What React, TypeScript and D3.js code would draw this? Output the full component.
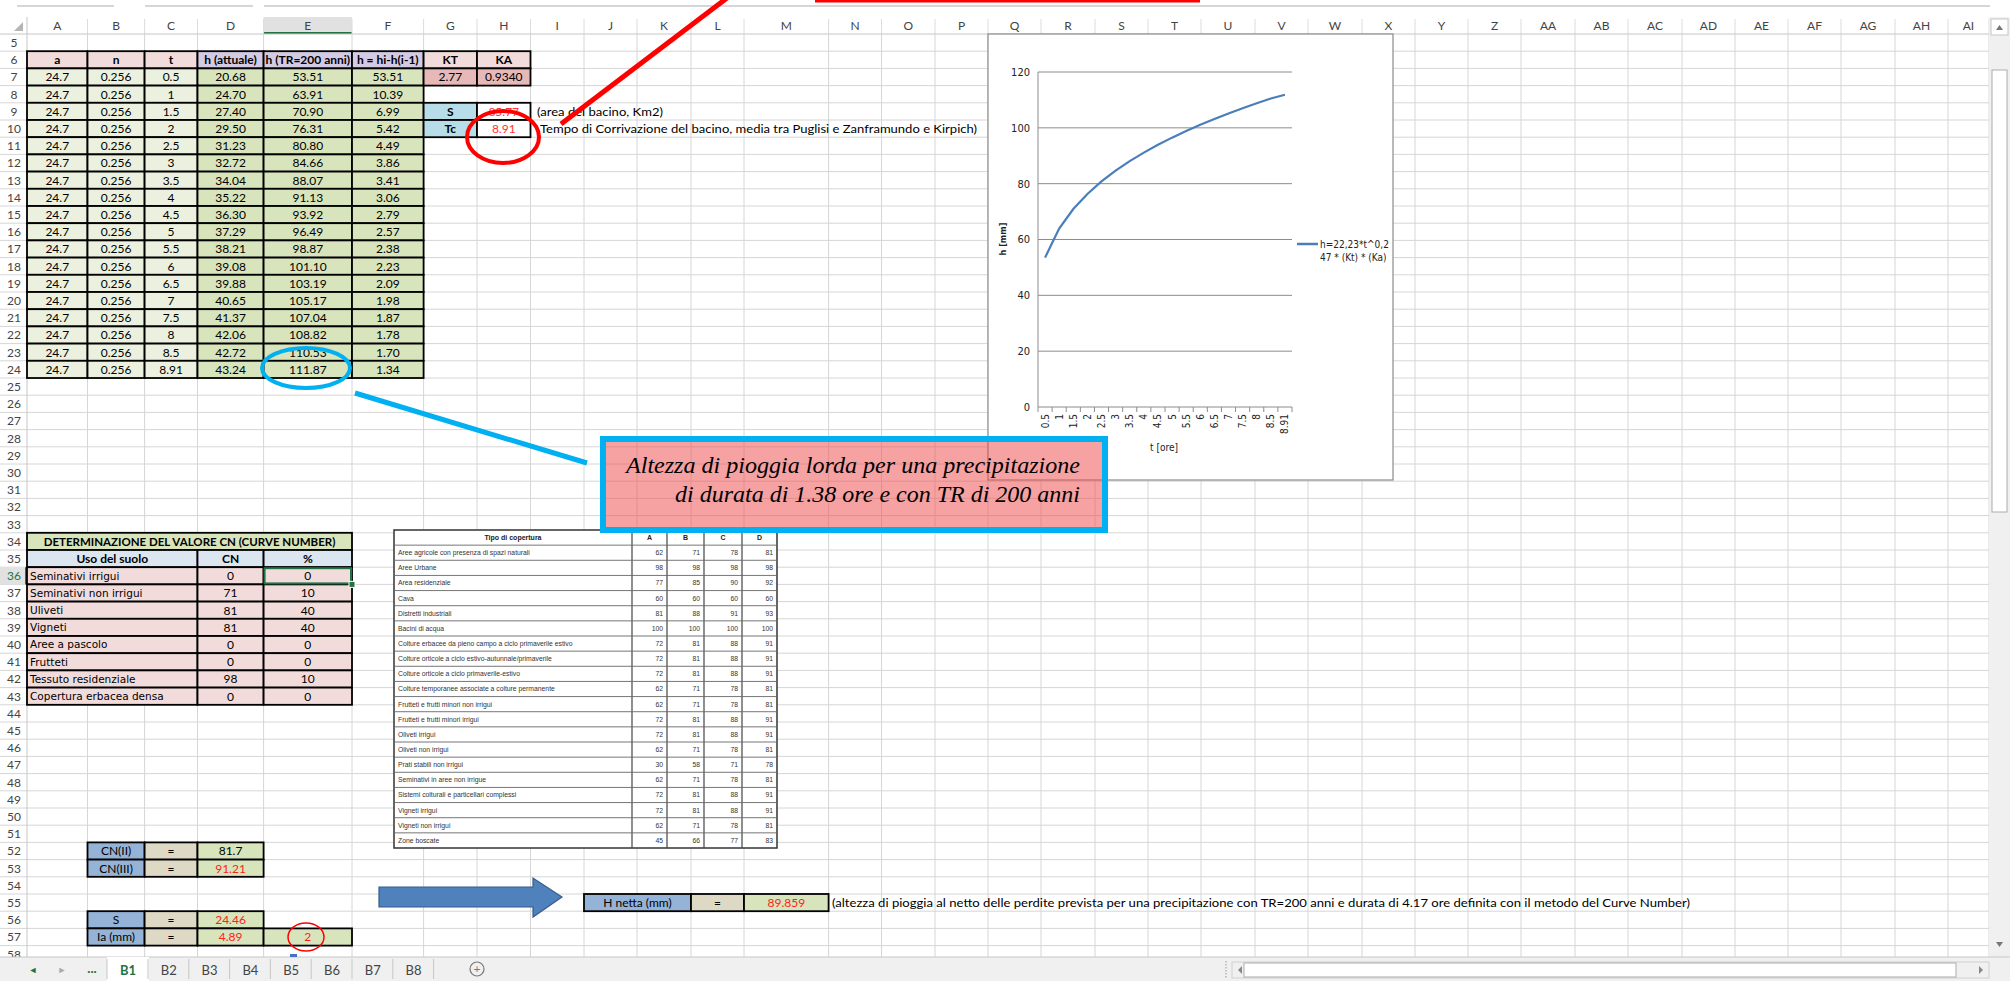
import React from "react";
import * as d3 from "d3";

// ---- sheet data ----
const tLabels = ["0.5", "1", "1.5", "2", "2.5", "3", "3.5", "4", "4.5", "5", "5.5", "6", "6.5", "7", "7.5", "8", "8.5", "8.91"];
const aValue = "24.7";
const nValue = "0.256";
const hAttuale = ["20.68", "24.70", "27.40", "29.50", "31.23", "32.72", "34.04", "35.22", "36.30", "37.29", "38.21", "39.08", "39.88", "40.65", "41.37", "42.06", "42.72", "43.24"];
const hTR200 = [53.51, 63.91, 70.9, 76.31, 80.8, 84.66, 88.07, 91.13, 93.92, 96.49, 98.87, 101.1, 103.19, 105.17, 107.04, 108.82, 110.53, 111.87];
const hDiff = ["53.51", "10.39", "6.99", "5.42", "4.49", "3.86", "3.41", "3.06", "2.79", "2.57", "2.38", "2.23", "2.09", "1.98", "1.87", "1.78", "1.70", "1.34"];
const topHeaders = ["a", "n", "t", "h (attuale)", "h (TR=200 anni)", "h = hi-h(i-1)"];

const landUse = ["Seminativi irrigui", "Seminativi non irrigui", "Uliveti", "Vigneti", "Aree a pascolo", "Frutteti", "Tessuto residenziale", "Copertura erbacea densa"];
const landCN = [0, 71, 81, 81, 0, 0, 98, 0];
const landPct = [0, 10, 40, 40, 0, 0, 10, 0];

const coverTypes = [
  "Aree agricole con presenza di spazi naturali", "Aree Urbane", "Area residenziale", "Cava", "Distretti industriali",
  "Bacini di acqua", "Colture erbacee da pieno campo a ciclo primaverile estivo", "Colture orticole a ciclo estivo-autunnale/primaverile",
  "Colture orticole a ciclo primaverile-estivo", "Colture temporanee associate a colture permanente", "Frutteti e frutti minori  non irrigui",
  "Frutteti e frutti minori irrigui", "Oliveti irrigui", "Oliveti non irrigui", "Prati stabili non irrigui", "Seminativi in aree non irrigue",
  "Sistemi colturali e particellari complessi", "Vigneti irrigui", "Vigneti non irrigui", "Zone boscate",
];
const coverA = [62, 98, 77, 60, 81, 100, 72, 72, 72, 62, 62, 72, 72, 62, 30, 62, 72, 72, 62, 45];
const coverB = [71, 98, 85, 60, 88, 100, 81, 81, 81, 71, 71, 81, 81, 71, 58, 71, 81, 81, 71, 66];
const coverC = [78, 98, 90, 60, 91, 100, 88, 88, 88, 78, 78, 88, 88, 78, 71, 78, 88, 88, 78, 77];
const coverD = [81, 98, 92, 60, 93, 100, 91, 91, 91, 81, 81, 91, 91, 81, 78, 81, 91, 91, 81, 83];

const tabs = ["B1", "B2", "B3", "B4", "B5", "B6", "B7", "B8"];
const yTicks = [0, 20, 40, 60, 80, 100, 120];

// ---- sheet geometry ----
const colLetters = ["A", "B", "C", "D", "E", "F", "G", "H", "I", "J", "K", "L", "M", "N", "O", "P",
  "Q", "R", "S", "T", "U", "V", "W", "X", "Y", "Z", "AA", "AB", "AC", "AD", "AE", "AF", "AG", "AH", "AI"];
const colEdges = [27, 87.5, 144.6, 197.5, 263.6, 352, 423.6, 477, 530.5, 584, 637, 691, 744, 828.6, 881.5, 935, 988,
  1041, 1095, 1148, 1201, 1255, 1308, 1362, 1415, 1468, 1521, 1575, 1628, 1682, 1735, 1788, 1841, 1895, 1948, 1989];
const ROW_H = 17.2;
const GRID_BOTTOM = 957;
const rowTop = (r: number) => 34 + (r - 5) * ROW_H;
const cx0 = (c: string) => colEdges[colLetters.indexOf(c)];
const cx1 = (c: string) => colEdges[colLetters.indexOf(c) + 1];
const rows = d3.range(5, 59);

const SHEET_FONT = "Lato, 'Liberation Sans', sans-serif";
const NARROW = "'Liberation Sans Narrow', 'DejaVu Sans Condensed', 'Liberation Sans', sans-serif";
const GRID = "#d6d6d6";

type CellProps = {
  from: string; to?: string; row: number; text?: string | number; fill?: string; color?: string;
  bold?: boolean; align?: "start" | "middle" | "end"; font?: string; size?: number; border?: number;
};

const Cell = ({from, to, row, text, fill = "none", color = "#000", bold = false, align = "middle", font = SHEET_FONT, size = 12, border = 1.8}: CellProps) => {
  const x0 = cx0(from), x1 = cx1(to ?? from), y0 = rowTop(row);
  const tx = align === "start" ? x0 + 3 : align === "end" ? x1 - 3 : (x0 + x1) / 2;
  return (
    <g>
      <rect x={x0} y={y0} width={x1 - x0} height={ROW_H} fill={fill} stroke={border ? "#000" : "none"} strokeWidth={border}/>
      {text !== undefined && (
        <text x={tx} y={y0 + ROW_H / 2} dy="0.36em" textAnchor={align} fill={color}
              fontWeight={bold ? 700 : 400} fontFamily={font} fontSize={size}>{text}</text>
      )}
    </g>
  );
};

const Chart = () => {
  const plot = {left: 1038, right: 1292, top: 72, bottom: 407};
  const x = d3.scaleBand().domain(tLabels).range([plot.left, plot.right]);
  const y = d3.scaleLinear().domain([0, 120]).range([plot.bottom, plot.top]);
  const path = d3.line<number>()
    .x((_, i) => (x(tLabels[i]) ?? 0) + x.bandwidth() / 2)
    .y(d => y(d))(hTR200);
  return (
    <g>
      <rect x={988} y={34} width={405} height={446} fill="#fff" stroke="#8a8a8a" strokeWidth={1.2}/>
      {yTicks.map(v => (
        <g key={v}>
          {v > 0 && <line x1={plot.left} x2={plot.right} y1={y(v)} y2={y(v)} stroke="#8c8c8c" strokeWidth={1}/>}
          <text x={plot.left - 8} y={y(v)} dy="0.35em" textAnchor="end" fontFamily={NARROW} fontSize={11} fill="#222">{v}</text>
        </g>
      ))}
      <line x1={plot.left} x2={plot.left} y1={plot.top} y2={plot.bottom} stroke="#8c8c8c"/>
      <line x1={plot.left} x2={plot.right} y1={plot.bottom} y2={plot.bottom} stroke="#8c8c8c"/>
      {tLabels.map(t => (
        <line key={"tk" + t} x1={x(t)} x2={x(t)} y1={plot.bottom} y2={plot.bottom + 5} stroke="#8c8c8c"/>
      ))}
      <line x1={plot.right} x2={plot.right} y1={plot.bottom} y2={plot.bottom + 5} stroke="#8c8c8c"/>
      {tLabels.map(t => {
        const cx = (x(t) ?? 0) + x.bandwidth() / 2 + 3.5;
        return (
          <text key={"lb" + t} transform={`translate(${cx},${plot.bottom + 7}) rotate(-90)`} textAnchor="end"
                fontFamily={NARROW} fontSize={10} fill="#222">{t}</text>
        );
      })}
      <path d={path ?? ""} fill="none" stroke="#4a7ebb" strokeWidth={2.2}/>
      <text transform="translate(1006,239) rotate(-90)" textAnchor="middle" fontFamily={NARROW} fontSize={9} fontWeight={700} fill="#222">h [mm]</text>
      <text x={1164} y={451} textAnchor="middle" fontFamily={NARROW} fontSize={10} fill="#222">t [ore]</text>
      <line x1={1297} x2={1318} y1={244} y2={244} stroke="#4a7ebb" strokeWidth={2.5}/>
      <text x={1320} y={248} fontFamily={NARROW} fontSize={10} fill="#222">h=22,23*t^0,2</text>
      <text x={1320} y={261} fontFamily={NARROW} fontSize={10} fill="#222">47 * (Kt) * (Ka)</text>
    </g>
  );
};

const CoverTable = () => {
  const x0 = 394, x1 = 777, y0 = 530, y1 = 848;
  const cols = [394, 632, 667, 704, 742, 777];
  const rh = (y1 - y0) / (coverTypes.length + 1);
  const font = "'Liberation Sans', Arial, sans-serif";
  return (
    <g>
      <rect x={x0} y={y0} width={x1 - x0} height={y1 - y0} fill="#fff" stroke="#333" strokeWidth={1.5}/>
      {cols.slice(1, -1).map(cx => <line key={cx} x1={cx} x2={cx} y1={y0} y2={y1} stroke="#444" strokeWidth={1.2}/>)}
      {d3.range(1, coverTypes.length + 1).map(i => (
        <line key={i} x1={x0} x2={x1} y1={y0 + i * rh} y2={y0 + i * rh} stroke="#666" strokeWidth={0.9}/>
      ))}
      <text x={(cols[0] + cols[1]) / 2} y={y0 + rh / 2} dy="0.35em" textAnchor="middle" fontFamily={font} fontSize={7} fontWeight={700} fill="#222">Tipo di copertura</text>
      {["A", "B", "C", "D"].map((h, j) => (
        <text key={h} x={(cols[j + 1] + cols[j + 2]) / 2} y={y0 + rh / 2} dy="0.35em" textAnchor="middle" fontFamily={font} fontSize={7} fontWeight={700} fill="#222">{h}</text>
      ))}
      {coverTypes.map((name, i) => {
        const yy = y0 + (i + 1.5) * rh;
        const vals = [coverA[i], coverB[i], coverC[i], coverD[i]];
        return (
          <g key={name}>
            <text x={x0 + 4} y={yy} dy="0.35em" fontFamily={font} fontSize={6.8} fill="#333">{name}</text>
            {vals.map((v, j) => (
              <text key={j} x={cols[j + 2] - 4} y={yy} dy="0.35em" textAnchor="end" fontFamily={font} fontSize={6.8} fill="#333">{v}</text>
            ))}
          </g>
        );
      })}
    </g>
  );
};

const App = () => {
  const navFont = SHEET_FONT;
  return (
    <svg width={2010} height={981} style={{position: "absolute", left: 0, top: 0}} xmlns="http://www.w3.org/2000/svg">
      <rect width={2010} height={981} fill="#fff"/>

      {/* ribbon remnants */}
      <line x1={17} x2={114} y1={6} y2={6} stroke="#c8c8c8" strokeWidth={1.5}/>
      <line x1={145} x2={253} y1={6} y2={6} stroke="#c8c8c8" strokeWidth={1.5}/>
      <line x1={264} x2={1990} y1={6} y2={6} stroke="#c8c8c8" strokeWidth={1.5}/>
      <line x1={815} x2={1200} y1={1} y2={1} stroke="#ff0000" strokeWidth={3}/>

      {/* column headers */}
      <rect x={cx0("E")} y={17} width={cx1("E") - cx0("E")} height={17} fill="#e1e1e1"/>
      <line x1={cx0("E")} x2={cx1("E")} y1={33} y2={33} stroke="#217346" strokeWidth={2}/>
      {colLetters.map((c, i) => (
        <g key={c}>
          <line x1={colEdges[i + 1]} x2={colEdges[i + 1]} y1={19} y2={34} stroke="#dcdcdc"/>
          <text x={(colEdges[i] + colEdges[i + 1]) / 2} y={26} dy="0.36em" textAnchor="middle" fontFamily={SHEET_FONT} fontSize={12} fill="#444">{c}</text>
        </g>
      ))}
      <polygon points="14,31 23,31 23,22" fill="#b5b5b5"/>
      <line x1={0} x2={1989} y1={34} y2={34} stroke="#c6c6c6"/>

      {/* grid */}
      {rows.map(r => (
        <line key={"r" + r} x1={0} x2={1989} y1={rowTop(r) + ROW_H} y2={rowTop(r) + ROW_H} stroke={GRID}/>
      ))}
      {colEdges.slice(1).map(x => (
        <line key={"c" + x} x1={x} x2={x} y1={34} y2={GRID_BOTTOM} stroke={GRID}/>
      ))}
      <line x1={27} x2={27} y1={17} y2={GRID_BOTTOM} stroke="#c6c6c6"/>

      {/* row headers */}
      <rect x={0} y={rowTop(36)} width={27} height={ROW_H} fill="#e1e1e1"/>
      <line x1={26} x2={26} y1={rowTop(36)} y2={rowTop(37)} stroke="#217346" strokeWidth={2}/>
      {rows.map(r => (
        <text key={"rh" + r} x={14} y={rowTop(r) + ROW_H / 2} dy="0.36em" textAnchor="middle" fontFamily={SHEET_FONT}
              fontSize={12} fill={r === 36 ? "#217346" : "#444"}>{r}</text>
      ))}

      {/* rainfall table */}
      {topHeaders.map((h, j) => (
        <Cell key={h} from={"ABCDEF"[j]} row={6} text={h} bold fill={j < 3 ? "#f2dcdb" : "#d3cae3"}/>
      ))}
      {tLabels.map((t, i) => (
        <g key={"row" + t}>
          <Cell from="A" row={7 + i} text={aValue} fill="#ebf1de"/>
          <Cell from="B" row={7 + i} text={nValue} fill="#ebf1de"/>
          <Cell from="C" row={7 + i} text={t} fill="#ebf1de"/>
          <Cell from="D" row={7 + i} text={hAttuale[i]} fill="#d8e4bc"/>
          <Cell from="E" row={7 + i} text={hTR200[i].toFixed(2)} fill="#d8e4bc"/>
          <Cell from="F" row={7 + i} text={hDiff[i]} fill="#d8e4bc"/>
        </g>
      ))}
      <Cell from="G" row={6} text="KT" bold fill="#f2dcdb"/>
      <Cell from="H" row={6} text="KA" bold fill="#f2dcdb"/>
      <Cell from="G" row={7} text="2.77" fill="#e6b8b7"/>
      <Cell from="H" row={7} text="0.9340" fill="#e6b8b7"/>
      <Cell from="G" row={9} text="S" bold fill="#b7dee8"/>
      <Cell from="H" row={9} text="85.77" color="#ff3333" fill="#fff"/>
      <Cell from="G" row={10} text="Tc" bold fill="#b7dee8"/>
      <Cell from="H" row={10} text="8.91" color="#ff3333" fill="#fff"/>
      <text x={537} y={rowTop(9) + ROW_H / 2} dy="0.36em" fontFamily={SHEET_FONT} fontSize={12} textLength={126} lengthAdjust="spacingAndGlyphs">(area del bacino, Km2)</text>
      <text x={540} y={rowTop(10) + ROW_H / 2} dy="0.36em" fontFamily={SHEET_FONT} fontSize={12} textLength={437} lengthAdjust="spacingAndGlyphs">Tempo di Corrivazione del bacino, media tra Puglisi e Zanframundo e Kirpich)</text>

      {/* CN table */}
      <Cell from="A" to="E" row={34} text="DETERMINAZIONE DEL VALORE CN (CURVE NUMBER)" bold fill="#d8e4bc" size={11.5}/>
      <Cell from="A" to="C" row={35} text="Uso del suolo" bold fill="#dce6f1"/>
      <Cell from="D" row={35} text="CN" bold fill="#dce6f1"/>
      <Cell from="E" row={35} text="%" bold fill="#dce6f1"/>
      {landUse.map((name, i) => (
        <g key={name}>
          <Cell from="A" to="C" row={36 + i} text={name} align="start" fill="#f2dcdb" font="'DejaVu Sans', Verdana, sans-serif" size={10.5}/>
          <Cell from="D" row={36 + i} text={landCN[i]} fill="#f2dcdb"/>
          <Cell from="E" row={36 + i} text={landPct[i]} fill="#f2dcdb"/>
        </g>
      ))}
      <rect x={cx0("E") + 1} y={rowTop(36) + 1} width={cx1("E") - cx0("E") - 2} height={ROW_H - 2} fill="none" stroke="#217346" strokeWidth={2}/>
      <rect x={cx1("E") - 3} y={rowTop(37) - 3} width={6} height={6} fill="#217346" stroke="#fff" strokeWidth={1}/>

      <CoverTable/>

      {/* CN results */}
      <Cell from="B" row={52} text="CN(II)" fill="#95b3d7"/>
      <Cell from="C" row={52} text="=" fill="#ddd9c4"/>
      <Cell from="D" row={52} text="81.7" fill="#d8e4bc"/>
      <Cell from="B" row={53} text="CN(III)" fill="#95b3d7"/>
      <Cell from="C" row={53} text="=" fill="#ddd9c4"/>
      <Cell from="D" row={53} text="91.21" color="#ff2020" fill="#d8e4bc"/>
      <Cell from="B" row={56} text="S" fill="#95b3d7"/>
      <Cell from="C" row={56} text="=" fill="#ddd9c4"/>
      <Cell from="D" row={56} text="24.46" color="#ff2020" fill="#d8e4bc"/>
      <Cell from="B" row={57} text="Ia (mm)" fill="#95b3d7"/>
      <Cell from="C" row={57} text="=" fill="#ddd9c4"/>
      <Cell from="D" row={57} text="4.89" color="#ff2020" fill="#d8e4bc"/>
      <Cell from="E" row={57} text="2" color="#ff2020" fill="#d8e4bc"/>
      <ellipse cx={306} cy={937} rx={18} ry={14} fill="none" stroke="#ff0000" strokeWidth={1.5}/>

      {/* arrow and net height */}
      <polygon points="379,887 533,887 533,878 562,897 533,917 533,907 379,907" fill="#4f81bd" stroke="#385d8a" strokeWidth={1.2}/>
      <Cell from="J" to="K" row={55} text="H netta (mm)" fill="#95b3d7"/>
      <Cell from="L" row={55} text="=" fill="#ddd9c4"/>
      <Cell from="M" row={55} text="89.859" color="#ff2020" fill="#d8e4bc"/>
      <text x={832} y={rowTop(55) + ROW_H / 2} dy="0.36em" fontFamily={SHEET_FONT} fontSize={12} textLength={858} lengthAdjust="spacingAndGlyphs">(altezza di pioggia al netto delle perdite prevista per una precipitazione con TR=200 anni e durata di 4.17 ore definita con il metodo del Curve Number)</text>

      <Chart/>

      {/* annotations */}
      <line x1={727} y1={-2} x2={561} y2={124} stroke="#ff0000" strokeWidth={5}/>
      <ellipse cx={503} cy={137} rx={36} ry={26} fill="none" stroke="#ff0000" strokeWidth={4}/>
      <ellipse cx={306} cy={368} rx={44} ry={20} fill="none" stroke="#00b0f0" strokeWidth={4}/>
      <line x1={355} y1={393} x2={587} y2={463} stroke="#00b0f0" strokeWidth={5}/>
      <rect x={603} y={439} width={502} height={91} fill="#f05050" fillOpacity={0.53} stroke="#00b0f0" strokeWidth={6}/>
      <text x={626} y={473} fontFamily="'Liberation Serif', 'DejaVu Serif', serif" fontStyle="italic" fontSize={24} textLength={454} lengthAdjust="spacingAndGlyphs">Altezza di pioggia lorda per una precipitazione</text>
      <text x={675} y={502} fontFamily="'Liberation Serif', 'DejaVu Serif', serif" fontStyle="italic" fontSize={24} textLength={405} lengthAdjust="spacingAndGlyphs">di durata di 1.38 ore e con TR di 200 anni</text>

      {/* vertical scrollbar */}
      <rect x={1989} y={17} width={21} height={940} fill="#f0f0f0"/>
      <rect x={1991} y={19} width={17} height={16} fill="#fff" stroke="#c6c6c6"/>
      <polygon points="1996,30 2003,30 1999.5,25" fill="#777"/>
      <rect x={1992} y={70} width={15} height={442} fill="#fff" stroke="#ababab"/>
      <polygon points="1996,942 2003,942 1999.5,947" fill="#777"/>

      {/* tab bar */}
      <rect x={0} y={957} width={2010} height={24} fill="#f0f0f0"/>
      <line x1={0} x2={2010} y1={957} y2={957} stroke="#c6c6c6"/>
      <text x={33} y={970} dy="0.36em" textAnchor="middle" fontSize={9} fill="#217346" fontFamily={navFont}>◄</text>
      <text x={62} y={970} dy="0.36em" textAnchor="middle" fontSize={9} fill="#aaa" fontFamily={navFont}>►</text>
      <text x={92} y={968} dy="0.36em" textAnchor="middle" fontSize={13} fontWeight={700} fill="#217346" fontFamily={navFont}>...</text>
      <rect x={107} y={957} width={42} height={24} fill="#fff"/>
      {tabs.map((t, i) => {
        const x0 = 107 + i * 40.8;
        return (
          <g key={t}>
            <line x1={x0 + 41} x2={x0 + 41} y1={959} y2={979} stroke="#c6c6c6"/>
            <text x={x0 + 21} y={970} dy="0.36em" textAnchor="middle" fontFamily={navFont} fontSize={13}
                  fontWeight={i === 0 ? 700 : 400} fill={i === 0 ? "#217346" : "#444"}>{t}</text>
          </g>
        );
      })}
      <line x1={107} x2={107} y1={959} y2={979} stroke="#c6c6c6"/>
      <rect x={290} y={954} width={7} height={3} fill="#4472c4"/>
      <circle cx={477} cy={969} r={7} fill="none" stroke="#777" strokeWidth={1.2}/>
      <text x={477} y={969} dy="0.36em" textAnchor="middle" fontFamily={navFont} fontSize={12} fill="#777">+</text>

      {/* horizontal scrollbar */}
      <line x1={1226} x2={1226} y1={961} y2={978} stroke="#999" strokeDasharray="1.5 1.5"/>
      <rect x={1232} y={962} width={757} height={16} fill="#f0f0f0" stroke="#d0d0d0"/>
      <polygon points="1238,970 1242,966 1242,974" fill="#888"/>
      <rect x={1244} y={963} width={712} height={14} fill="#fff" stroke="#ababab"/>
      <polygon points="1983,970 1979,966 1979,974" fill="#888"/>
    </svg>
  );
};

export default App;
